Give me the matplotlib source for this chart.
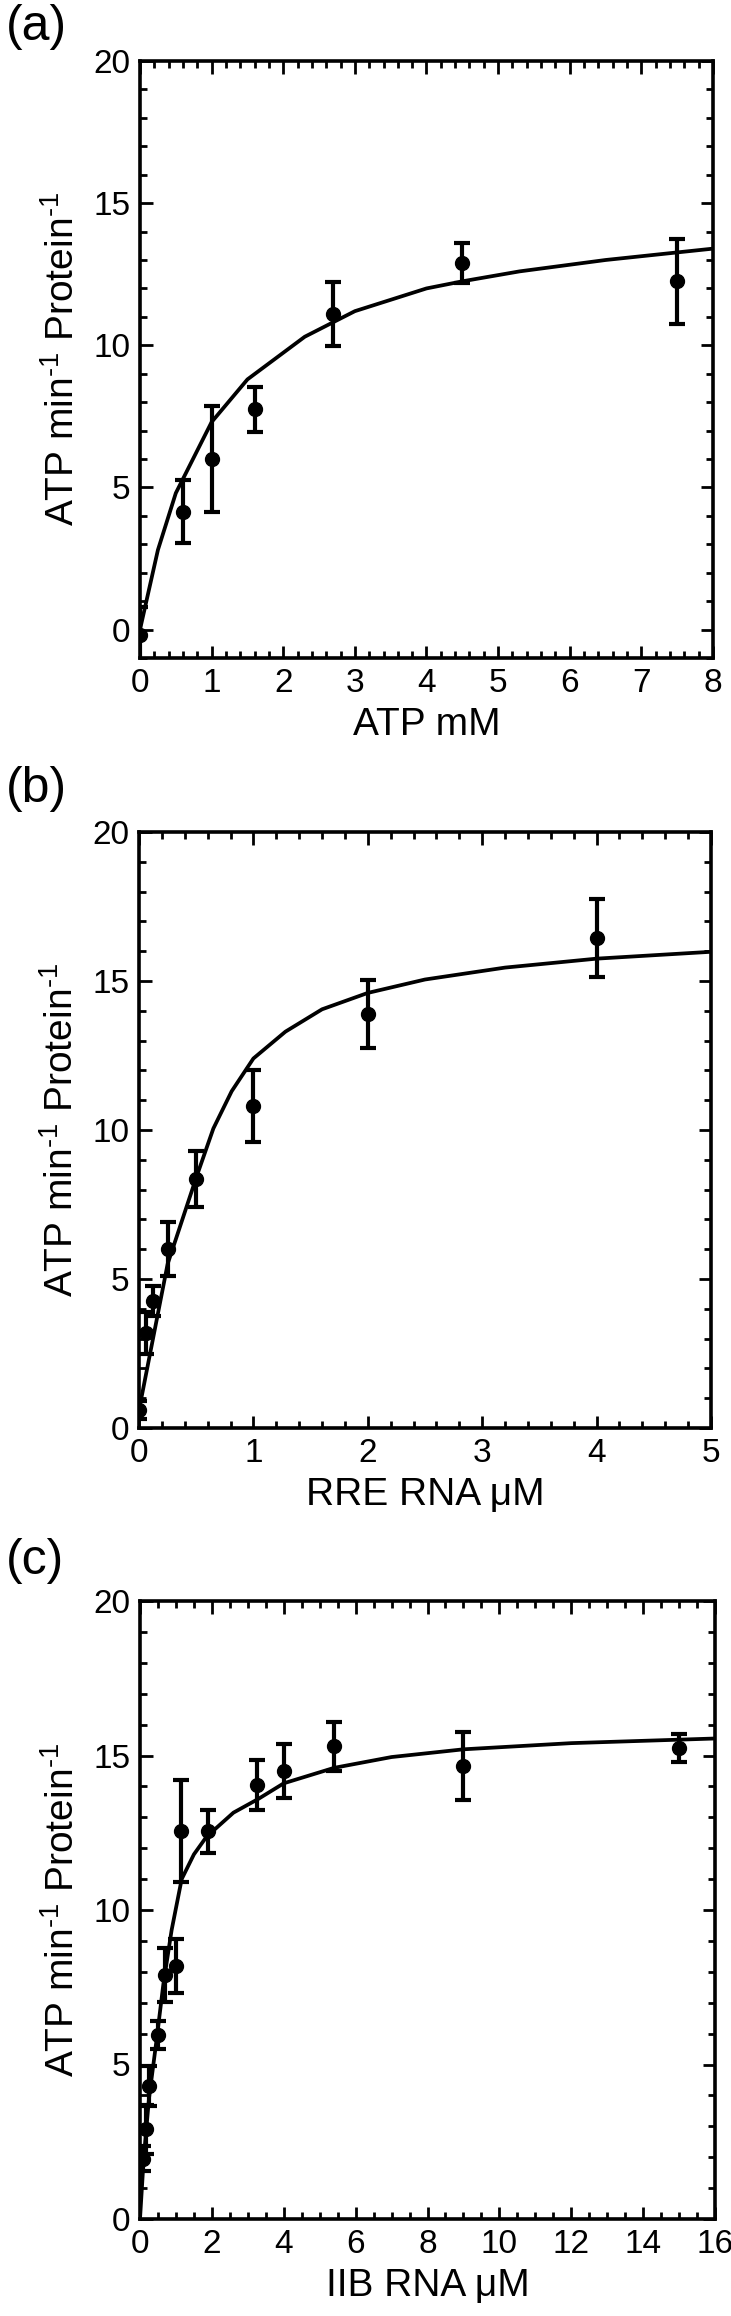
import matplotlib
matplotlib.use("Agg")
import matplotlib.pyplot as plt
from matplotlib.ticker import MultipleLocator

plt.rcParams['font.family'] = ['Liberation Sans', 'DejaVu Sans']
plt.rcParams['mathtext.fontset'] = 'custom'
plt.rcParams['mathtext.rm'] = 'Liberation Sans'
plt.rcParams['mathtext.default'] = 'regular'

# (a) ATP titration
a_x = [0, 0.6, 1.0, 1.6, 2.7, 4.5, 7.5]
a_y = [-0.2, 4.15, 6.0, 7.75, 11.1, 12.9, 12.25]
a_err = [1.0, 1.1, 1.85, 0.8, 1.13, 0.7, 1.5]
a_fit_x = [0, 0.25, 0.5, 1, 1.5, 2.3, 3, 4, 4.5, 5.3, 6.5, 8]
a_fit_y = [0, 2.8, 4.8, 7.3, 8.8, 10.3, 11.2, 12.0, 12.25, 12.6, 13.0, 13.4]

# (b) RRE RNA titration
b_x = [0, 0.06, 0.125, 0.25, 0.5, 1, 2, 4]
b_y = [0.6, 3.2, 4.25, 6.0, 8.35, 10.8, 13.9, 16.45]
b_err = [0.3, 0.7, 0.5, 0.9, 0.95, 1.2, 1.15, 1.3]
b_fit_x = [0, 0.25, 0.5, 0.65, 0.81, 1.0, 1.28, 1.6, 2.0, 2.5, 3.2, 4.0, 5.0]
b_fit_y = [0.6, 5.5, 8.4, 10.05, 11.3, 12.4, 13.3, 14.05, 14.6, 15.05, 15.45, 15.75, 15.98]

# (c) IIB RNA titration
c_x = [0.08, 0.17, 0.25, 0.5, 0.7, 1.0, 1.15, 1.9, 3.25, 4.0, 5.4, 9.0, 15.0]
c_y = [1.95, 2.9, 4.3, 5.95, 7.9, 8.2, 12.55, 12.55, 14.05, 14.5, 15.3, 14.65, 15.25]
c_err = [0.4, 0.8, 0.65, 0.45, 0.87, 0.87, 1.65, 0.7, 0.8, 0.87, 0.8, 1.1, 0.45]
c_fit_x = [0, 0.1, 0.25, 0.45, 0.65, 0.88, 1.16, 1.5, 1.85, 2.6, 3.3, 4.0, 5.4, 7.0, 9.0, 12.0, 16.0]
c_fit_y = [0, 1.9, 3.9, 5.7, 7.6, 9.35, 11.0, 11.8, 12.37, 13.15, 13.6, 14.1, 14.6, 14.95, 15.2, 15.4, 15.55]

ylabel = r'ATP min$^{\text{-}1}$ Protein$^{\text{-}1}$'

panels = [
    dict(letter='(a)', x=a_x, y=a_y, err=a_err, fx=a_fit_x, fy=a_fit_y,
         xlim=(0, 8), ylim=(-1, 20), xmaj=1, xmin=0.2, xlabel='ATP mM',
         rect=[140, 61, 713, 658], ltop=4),
    dict(letter='(b)', x=b_x, y=b_y, err=b_err, fx=b_fit_x, fy=b_fit_y,
         xlim=(0, 5), ylim=(0, 20), xmaj=1, xmin=0.2, xlabel='RRE RNA μM',
         rect=[139, 832, 711, 1428], ltop=766),
    dict(letter='(c)', x=c_x, y=c_y, err=c_err, fx=c_fit_x, fy=c_fit_y,
         xlim=(0, 16), ylim=(0, 20), xmaj=2, xmin=0.5, xlabel='IIB RNA μM',
         rect=[140, 1601, 715, 2219], ltop=1538),
]

W, H = 731, 2316
fig = plt.figure(figsize=(W / 100, H / 100), dpi=100)

for p in panels:
    l, t, r, b = p['rect']
    ax = fig.add_axes([l / W, 1 - b / H, (r - l) / W, (b - t) / H])

    ax.plot(p['fx'], p['fy'], color='k', lw=2.7, zorder=2)
    ax.errorbar(p['x'], p['y'], yerr=p['err'], fmt='o', color='k', ms=10,
                elinewidth=3, capsize=5.5, capthick=3, zorder=3)

    ax.set_xlim(*p['xlim'])
    ax.set_ylim(*p['ylim'])
    ax.xaxis.set_major_locator(MultipleLocator(p['xmaj']))
    ax.xaxis.set_minor_locator(MultipleLocator(p['xmin']))
    ax.yaxis.set_major_locator(MultipleLocator(5))
    ax.yaxis.set_minor_locator(MultipleLocator(1))
    ax.tick_params(which='both', direction='in', top=True, right=True,
                   labelsize=24, pad=7)
    ax.tick_params(which='major', length=9, width=2)
    ax.tick_params(which='minor', length=5, width=2)
    for s in ax.spines.values():
        s.set_linewidth(2.6)

    ax.set_xlabel(p['xlabel'], fontsize=28, labelpad=6)
    ax.set_ylabel(ylabel, fontsize=28, labelpad=8)

    fig.text(6 / W, 1 - p['ltop'] / H, p['letter'], fontsize=36,
             ha='left', va='top')

fig.savefig('out.png', dpi=100)
plt.close(fig)
